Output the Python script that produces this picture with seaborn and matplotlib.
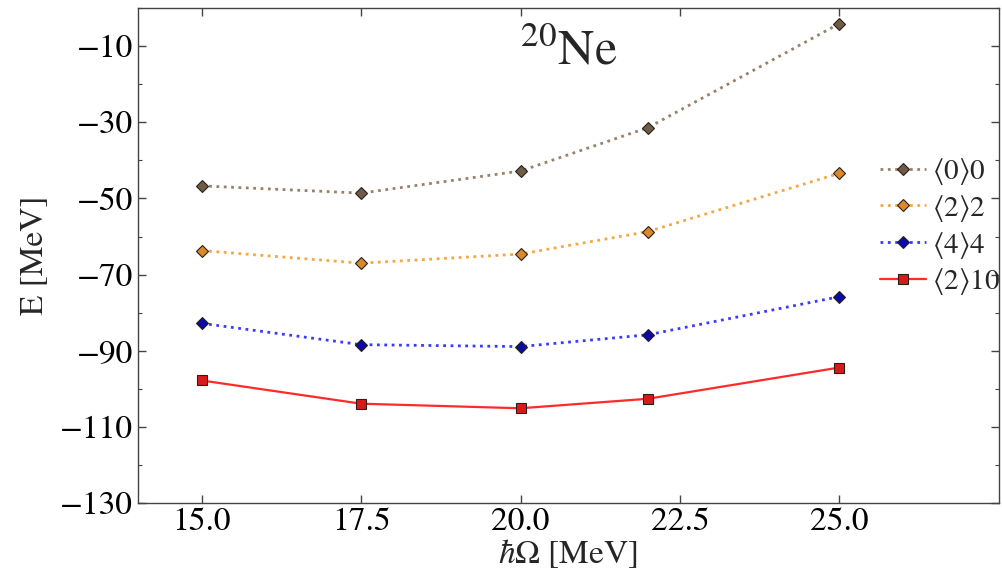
import numpy as np
import pandas as pd
import matplotlib
matplotlib.use('Agg')
import matplotlib.pyplot as plt
from matplotlib.ticker import FormatStrFormatter, MultipleLocator
import seaborn as sns

# values
hw = [15.0, 17.5, 20.0, 22.0, 25.0]
e_00 = [-46.7, -48.6, -42.8, -31.4, -4.1]
e_22 = [-63.7, -67.0, -64.6, -58.7, -43.4]
e_44 = [-82.8, -88.4, -88.9, -85.8, -75.8]
e_210 = [-97.8, -103.9, -105.1, -102.6, -94.4]
labels = [r'$\langle 0\rangle 0$', r'$\langle 2\rangle 2$', r'$\langle 4\rangle 4$', r'$\langle 2\rangle 10$']

sns.set_style('ticks')
plt.rcParams['font.family'] = ['STIXGeneral', 'DejaVu Serif']
plt.rcParams['mathtext.fontset'] = 'stix'

fig = plt.figure(figsize=(10.02, 5.73), dpi=100)
ax = fig.add_axes([0.1377, 0.122, 0.859, 0.864])

series = [e_00, e_22, e_44, e_210]
line_cols = ['#9a8068', '#f5a640', '#3a3aff', '#ff2a2a']
mark_cols = ['#6e5c48', '#d9892a', '#0a0aa8', '#d81a1a']
styles = [':', ':', ':', '-']
markers = ['D', 'D', 'D', 's']

for ys, lab, lc, mc, ls, mk in zip(series, labels, line_cols, mark_cols, styles, markers):
    df = pd.DataFrame({'hw': hw, 'E': ys})
    sns.lineplot(data=df, x='hw', y='E', ax=ax, color=lc, linestyle=ls, lw=2 if ls == ':' else 1.6,
                 marker=mk, markersize=6.5, markerfacecolor=mc,
                 markeredgecolor='#2a2018', markeredgewidth=0.8, label=lab)

ax.set_xlim(14, 27.5)
ax.set_ylim(-130, 0)
ax.set_xticks([15.0, 17.5, 20.0, 22.5, 25.0])
ax.xaxis.set_major_formatter(FormatStrFormatter('%.1f'))
ax.set_yticks(np.arange(-130, 0, 20))
ax.yaxis.set_minor_locator(MultipleLocator(10))
ax.tick_params(which='both', direction='in', top=True, right=True, colors='#444444', labelcolor='black')
ax.tick_params(which='major', length=6, width=1, labelsize=24)
ax.tick_params(which='minor', length=3, width=0.8)
for s in ax.spines.values():
    s.set_color('#444444')
    s.set_linewidth(1.0)

ax.set_xlabel(r'$\hbar\Omega$ [MeV]', fontsize=24, labelpad=0)
ax.set_ylabel('E [MeV]', fontsize=24, labelpad=8)
ax.text(0.5, 0.91, r'$^{20}$Ne', transform=ax.transAxes, ha='center', va='center', fontsize=36)

ax.legend(loc='upper left', bbox_to_anchor=(0.848, 0.725), frameon=False, fontsize=21,
          handlelength=1.6, handletextpad=0.2, labelspacing=0.2, borderaxespad=0)

fig.savefig('out.png', dpi=100)
